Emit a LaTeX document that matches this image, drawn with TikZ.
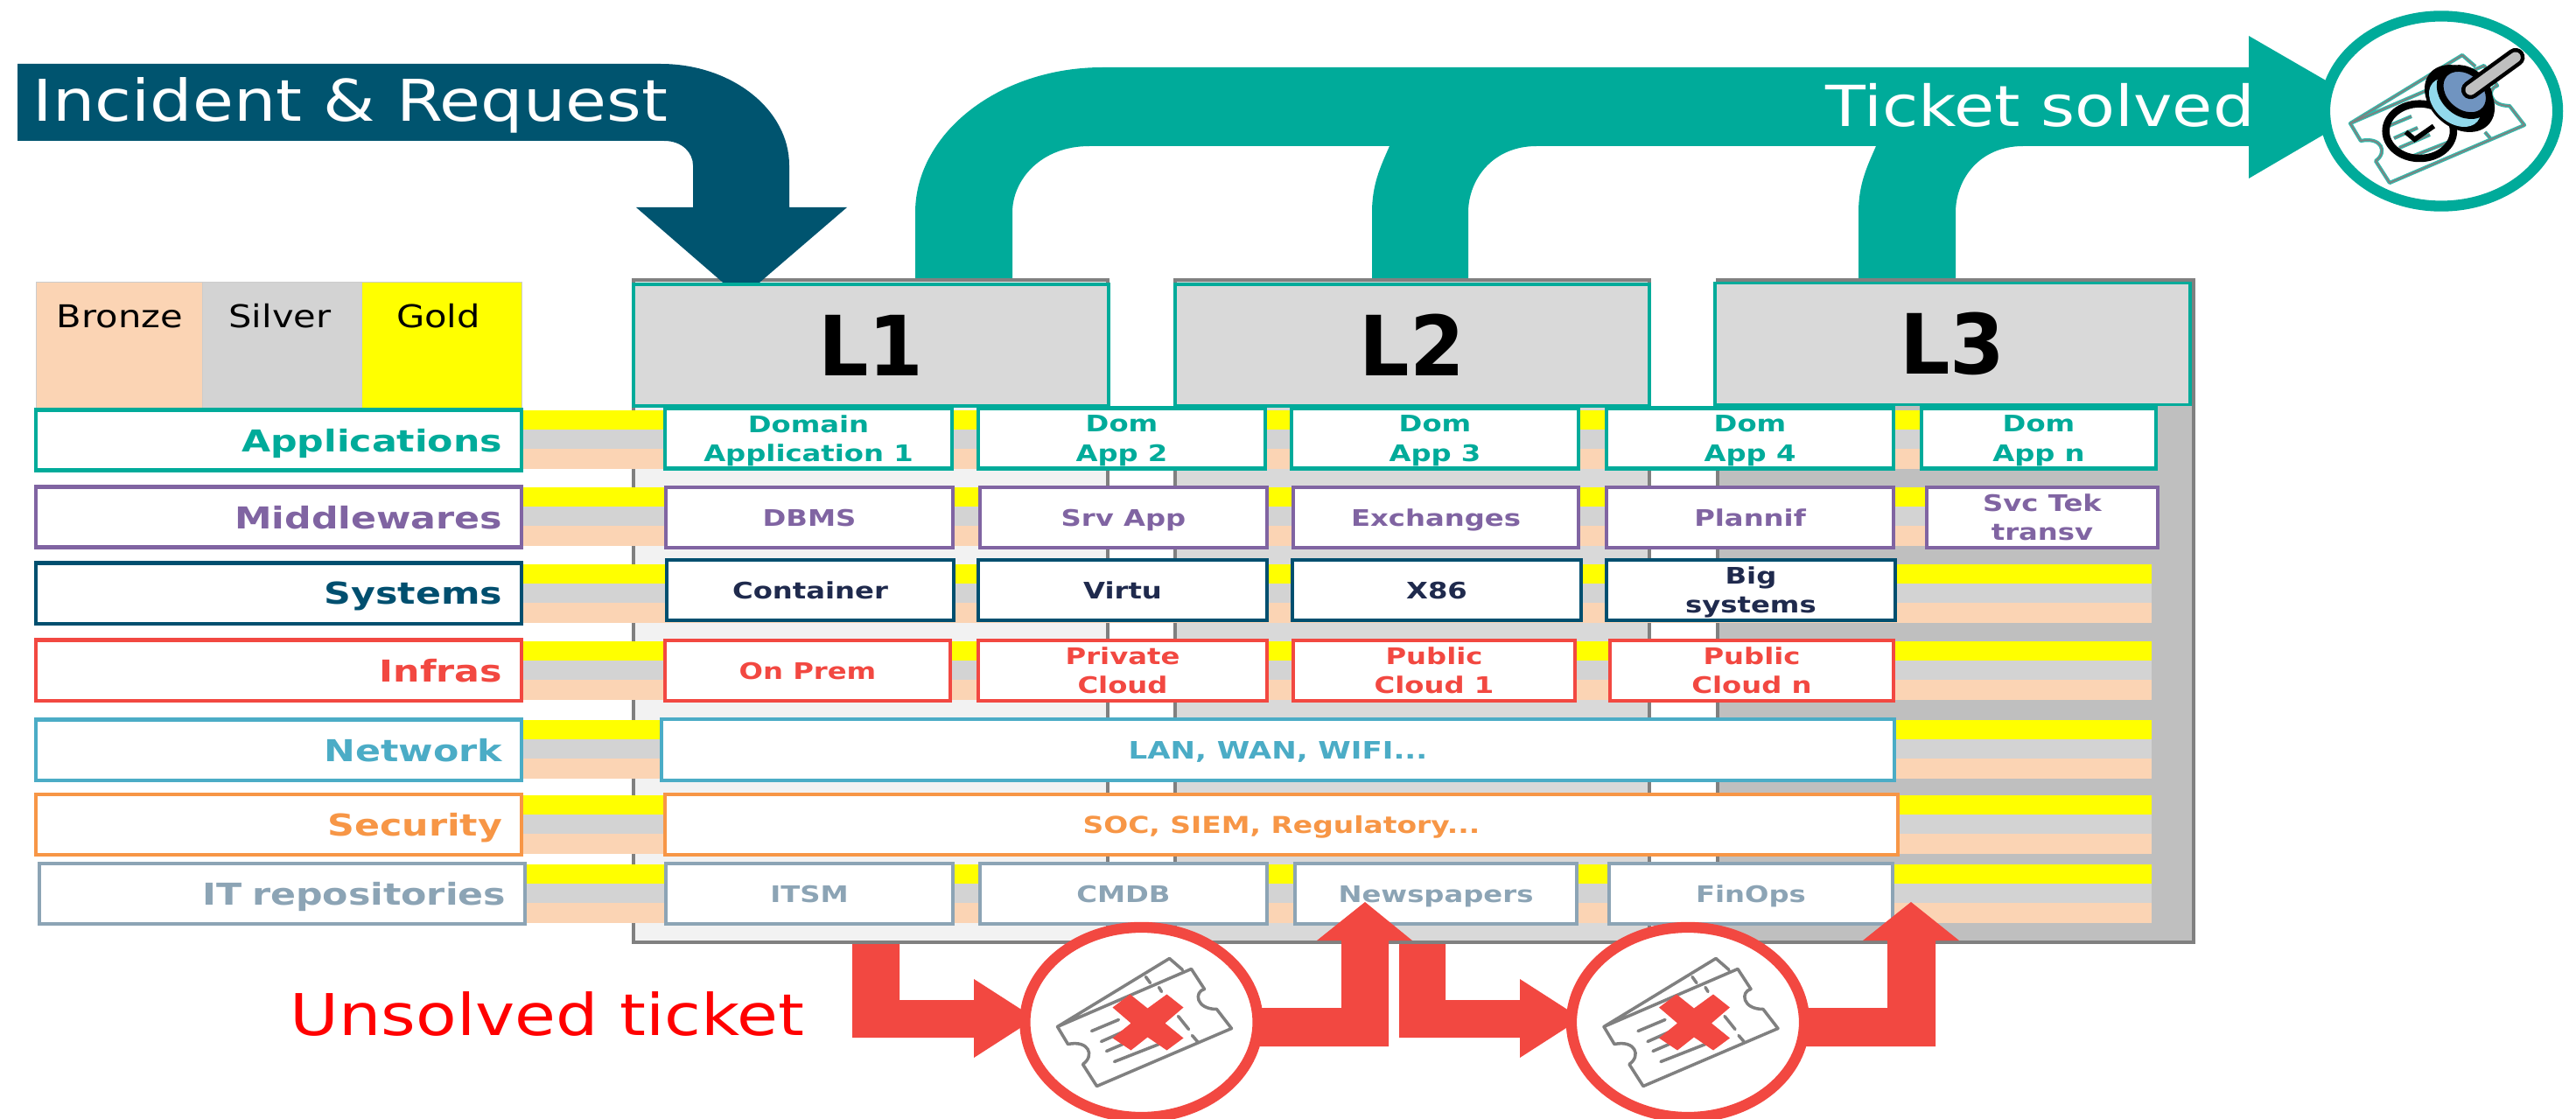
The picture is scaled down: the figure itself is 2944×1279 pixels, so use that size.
\documentclass[tikz,border=0pt]{standalone}
\usepackage{fontspec}
\setmainfont[FakeStretch=1.16]{DejaVu Sans}
\newfontfamily\tierfont[FakeStretch=1.24]{DejaVu Sans Bold}
\newfontfamily\levelfont[FakeStretch=0.95]{DejaVu Sans Bold}
\usetikzlibrary{shapes.geometric}
\definecolor{flowteal}{HTML}{00AB9A}
\definecolor{flowdark}{HTML}{00546F}
\definecolor{flowred}{HTML}{F24841}
\definecolor{apps}{HTML}{00AB9A}
\definecolor{mids}{HTML}{8064A2}
\definecolor{syst}{HTML}{004F6F}
\definecolor{systext}{HTML}{1F2A4D}
\definecolor{infr}{HTML}{F24841}
\definecolor{netw}{HTML}{4BACC6}
\definecolor{secu}{HTML}{F79646}
\definecolor{repo}{HTML}{8CA4B5}
\definecolor{bronze}{HTML}{FBD4B4}
\definecolor{silver}{HTML}{D3D3D3}
\definecolor{gold}{HTML}{FFFF00}
\definecolor{stampblue}{HTML}{7094C0}
\definecolor{stamplight}{HTML}{92D9EC}
\tikzset{
 tier/.style={draw=#1,text=#1,fill=white,line width=1.15pt,inner sep=0pt,align=center,minimum height=0.69cm,text depth=0pt,font=\tierfont\fontsize{7.4}{9.4}\selectfont},
 label box/.style={tier=#1,minimum width=5.55cm,text width=5.11cm,align=right,font=\tierfont\fontsize{9.8}{12}\selectfont},
 frame box/.style={draw=black!50,fill=#1,line width=1.1pt,minimum height=7.57cm,inner sep=0pt},
 level/.style={draw=flowteal,fill=black!15,line width=1.1pt,minimum width=5.42cm,minimum height=1.39cm,inner sep=0pt,font=\levelfont\fontsize{27}{30}\selectfont},
 ring/.style={ellipse,draw=#1,fill=white,line width=3.5pt,minimum width=2.66cm,minimum height=2.17cm,inner sep=0pt},
 legend cell/.style={fill=#1,draw=black!20,line width=0.2pt,minimum height=2.165cm,inner sep=0pt},
 legend text/.style={anchor=base,inner sep=0pt,font=\fontsize{10.2}{12}\selectfont},
 banner/.style={anchor=base west,inner sep=0pt,font=\fontsize{#1}{22}\selectfont},
 ticket line/.style={draw=black!50,line width=1pt,line join=round,line cap=round},
 ticket done/.style={draw=flowteal!80,double=black!50,double distance=0.5pt,line width=0.35pt,line join=round},
}
\newcommand{\ticketicon}[3]{
 \begin{scope}[shift={(#1,#2)}]
  \draw[#3] (-96,5)--(32,-73)--(47,-60) (-96,5)--(57,-61)--(72,-38) .. controls (60,-35) and (62,-15) .. (86,-15) --(103,7)--(-51,73)--(-67,48) .. controls (-53,38) and (-60,20) .. (-84,25) -- cycle;
  \draw[#3] (5,-52)--(10,-45) (20,-40)--(23,-35) (42,-7)--(54,8) (58,15)--(64,22);
  \draw[#3] (-57,10)--(-26,-3) (-46,22)--(-19,10) (-40,33)--(-5,18) (-31,45)--(20,25);
 \end{scope}
}
\newcommand{\lostticket}[2]{
 \ticketicon{#1}{#2}{ticket line}
 \fill[flowred,shift={(#1,#2)}] (-13,-32)--(7,-16)--(29,-32)--(48,-17)--(27,1)--(48,18)--(29,32)--(7,17)--(-12,32)--(-33,18)--(-12,1)--(-33,-17)--cycle;
}
\begin{document}
\begin{tikzpicture}[x=0.01cm,y=-0.01cm]
 \useasboundingbox (0,0) rectangle (2944,1279);

 \node[frame box=black!5,minimum width=5.42cm] (frameA) at (995,698.5) {};
 \node[frame box=black!15,minimum width=5.42cm] (frameB) at (1614,698.5) {};
 \node[frame box=black!25,minimum width=5.44cm] (frameC) at (2235,698.5) {};

 \coordinate (tipIn) at (847,341);
 \coordinate (tipOut) at (2710,122);
 \fill[flowdark] (20,73) -- (755,73) .. controls (836,73) and (902,125) .. (902,189) -- (902,237) -- (968,237) -- (tipIn) -- (727,237) -- (792,237) -- (792,189) .. controls (792,175) and (780,161) .. (759,161) -- (20,161) -- cycle;
 \fill[flowteal] (1046,0 |- frameA.north) -- (1046,243) .. controls (1046,152) and (1142,77) .. (1260,77) -- (2570,77) -- (2570,41) -- (tipOut) -- (2570,204) -- (2570,167) -- (2312,167) .. controls (2262,167) and (2235,205) .. (2235,243) -- (2235,0 |- frameC.north) -- (2124,0 |- frameC.north) -- (2124,243) .. controls (2124,210) and (2134,190) .. (2144,167) -- (1756,167) .. controls (1706,167) and (1678,205) .. (1678,243) -- (1678,0 |- frameB.north) -- (1568,0 |- frameB.north) -- (1568,243) .. controls (1568,210) and (1578,190) .. (1588,167) -- (1245,167) .. controls (1190,167) and (1157,205) .. (1157,243) -- (1157,0 |- frameA.north) -- cycle;

 \node[level] (levelA) at (995.5,394.5) {L1};
 \node[level] (levelB) at (1614,394.5) {L2};
 \node[level] (levelC) at (2231.5,393) {L3};

 \node[legend cell=bronze,minimum width=1.90cm] (cellB) at (136,431) {};
 \node[legend cell=silver,minimum width=1.82cm] (cellS) at (322,431) {};
 \node[legend cell=gold,minimum width=1.83cm] (cellG) at (504.5,431) {};
 \node[legend text] (txtB) at (137,374) {Bronze};
 \node[legend text] (txtS) at (320,374) {Silver};
 \node[legend text] (txtG) at (501,374) {Gold};

 \foreach \ty in {469,557,645,733,823,909,988}{
  \fill[gold] (597,\ty) rectangle (2459,\ty+22);
  \fill[silver] (597,\ty+22) rectangle (2459,\ty+44);
  \fill[bronze] (597,\ty+44) rectangle (2459,\ty+67);
 }

 \node[label box=apps] (labApps) at (318.5,503) {Applications};
 \node[label box=mids] (labMids) at (318.5,591) {Middlewares};
 \node[label box=syst] (labSyst) at (318.5,678) {Systems};
 \node[label box=infr] (labInfr) at (318.5,766) {Infras};
 \node[label box=netw] (labNetw) at (318.5,857) {Network};
 \node[label box=secu] (labSecu) at (318.5,942.5) {Security};
 \node[label box=repo] (labRepo) at (322.5,1021.75) {IT repositories};

 \node[tier=apps,minimum width=3.28cm] (dom1) at (924,501) {Domain\\Application 1};
 \node[tier=apps,minimum width=3.27cm] (dom2) at (1282,501) {Dom\\App 2};
 \node[tier=apps,minimum width=3.27cm] (dom3) at (1640,501) {Dom\\App 3};
 \node[tier=apps,minimum width=3.27cm] (dom4) at (2000,501) {Dom\\App 4};
 \node[tier=apps,minimum width=2.67cm] (domn) at (2330,501) {Dom\\App n};

 \node[tier=mids,minimum width=3.27cm] (dbms) at (925,591.5) {DBMS};
 \node[tier=mids,minimum width=3.27cm] (srv) at (1284,591.5) {Srv App};
 \node[tier=mids,minimum width=3.26cm] (exch) at (1641,591.5) {Exchanges};
 \node[tier=mids,minimum width=3.27cm] (plan) at (2000,591.5) {Plannif};
 \node[tier=mids,minimum width=2.64cm] (svc) at (2334,591.5) {Svc Tek\\transv};

 \node[tier=syst,text=systext,minimum width=3.27cm] (cont) at (926,674.5) {Container};
 \node[tier=syst,text=systext,minimum width=3.30cm] (virt) at (1283,674.5) {Virtu};
 \node[tier=syst,text=systext,minimum width=3.29cm] (xeightsix) at (1642,674.5) {X86};
 \node[tier=syst,text=systext,minimum width=3.30cm] (bigsys) at (2001,674.5) {Big\\systems};

 \node[tier=infr,minimum width=3.26cm] (prem) at (923,766.5) {On Prem};
 \node[tier=infr,minimum width=3.30cm] (priv) at (1283,766.5) {Private\\Cloud};
 \node[tier=infr,minimum width=3.22cm] (pubA) at (1639,766.5) {Public\\Cloud 1};
 \node[tier=infr,minimum width=3.24cm] (pubN) at (2002,766.5) {Public\\Cloud n};

 \node[tier=netw,minimum width=14.09cm,minimum height=0.70cm,font=\tierfont\fontsize{7.8}{9.4}\selectfont] (lan) at (1460.5,857) {LAN, WAN, WIFI...};
 \node[tier=secu,minimum width=14.09cm,font=\tierfont\fontsize{7.55}{9.4}\selectfont] (soc) at (1464.5,942.5) {SOC, SIEM, Regulatory...};

 \node[tier=repo,minimum width=3.27cm] (itsm) at (925,1021.75) {ITSM};
 \node[tier=repo,minimum width=3.27cm] (cmdb) at (1284,1021.75) {CMDB};
 \node[tier=repo,minimum width=3.22cm] (news) at (1641,1021.75) {Newspapers};
 \node[tier=repo,minimum width=3.23cm] (finops) at (2001,1021.75) {FinOps};

 \coordinate (tipLostA) at (1183,1164);
 \coordinate (tipNews) at (1560,1031);
 \coordinate (tipLostB) at (1807,1164);
 \coordinate (tipFree) at (2184,1031);
 \fill[flowred] (974,0 |- frameA.south) -- (1028,0 |- frameA.south) -- (1028,1143) -- (1113,1143) -- (1113,1119) -- (tipLostA) -- (1113,1209) -- (1113,1186) -- (974,1186) -- cycle;
 \fill[flowred] (1420,1152) -- (1533,1152) -- (1533,1075) -- (1505,1075) -- (tipNews) -- (1614,1075) -- (1587,1075) -- (1587,1196) -- (1420,1196) -- cycle;
 \fill[flowred] (1599,0 |- frameB.south) -- (1652,0 |- frameB.south) -- (1652,1143) -- (1737,1143) -- (1737,1119) -- (tipLostB) -- (1737,1209) -- (1737,1186) -- (1599,1186) -- cycle;
 \fill[flowred] (2050,1152) -- (2157,1152) -- (2157,1075) -- (2129,1075) -- (tipFree) -- (2239,1075) -- (2212,1075) -- (2212,1196) -- (2050,1196) -- cycle;

 \node[ring=flowred] (lostA) at (1304.5,1168.5) {};
 \node[ring=flowred] (lostB) at (1929,1168.5) {};
 \lostticket{1304.5}{1168.5}
 \lostticket{1929}{1168.5}

 \node[ring=flowteal] (done) at (2790,127) {};
 \ticketicon{2782}{136}{ticket done}
 \begin{scope}[shift={(2600,0)},xscale=0.336,yscale=0.339]
  \draw[black,line width=2.4pt] (492,442) ellipse (115 and 92);
  \draw[black,line width=1.6pt] (445,445) -- (475,470) -- (540,425);
  \fill[black,rotate around={-40:(628,332)}] (628,332) ellipse (132 and 98);
  \fill[stamplight,rotate around={-40:(612,345)}] (612,345) ellipse (100 and 68);
  \filldraw[fill=stampblue,draw=black,line width=2.2pt,rotate around={-40:(645,310)}] (645,310) ellipse (92 and 70);
  \draw[black,line width=6pt,line cap=round] (665,303) -- (818,193);
  \draw[black!25,line width=3.4pt,line cap=round] (665,303) -- (818,193);
 \end{scope}

 \node[banner=18.7,text=white] (incident) at (37,139) {Incident \& Request};
 \node[banner=18.4,text=white] (solved) at (2086,145) {Ticket solved};
 \node[banner=18.7,text=red] (unsolved) at (331,1183) {Unsolved ticket};
\end{tikzpicture}
\end{document}
